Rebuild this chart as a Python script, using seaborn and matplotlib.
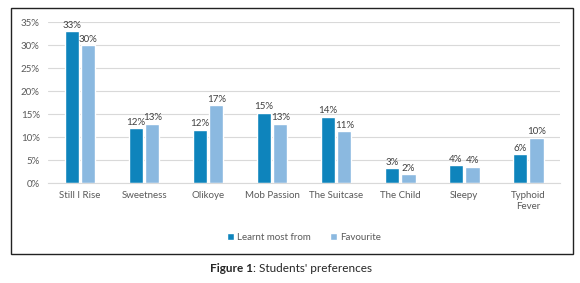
import numpy as np
import pandas as pd
import seaborn as sns
import matplotlib.pyplot as plt
from matplotlib.patches import Rectangle

# data
stories = ["Still I Rise", "Sweetness", "Olikoye", "Mob Passion", "The Suitcase",
           "The Child", "Sleepy", "Typhoid\nFever"]
learnt = [33.0, 12.0, 11.6, 15.3, 14.4, 3.2, 3.9, 6.3]
favourite = [30.0, 12.9, 16.9, 12.9, 11.3, 1.9, 3.6, 9.9]
series = ["Learnt most from", "Favourite"]
colors = ["#0E84BC", "#8BB9E0"]

df = pd.DataFrame({
    "story": stories * 2,
    "value": learnt + favourite,
    "series": [series[0]] * len(stories) + [series[1]] * len(stories),
})

sns.set_style("white")
plt.rcParams["font.family"] = ["Lato", "DejaVu Sans"]

fig = plt.figure(figsize=(5.8, 2.83), dpi=100)
ax = fig.add_axes([0.0828, 0.353, 0.883, 0.569])

# outer frame like the exported chart box
fig.patches.append(Rectangle((0.019, 0.1025), 0.969, 0.869, transform=fig.transFigure,
                             fill=False, edgecolor="#222222", linewidth=1.0))

sns.barplot(data=df, x="story", y="value", hue="series", palette=colors,
            saturation=1, width=0.52, gap=0.15, ax=ax, legend=True)

for cont in ax.containers:
    ax.bar_label(cont, fmt="{:.0f}%", fontsize=7, color="#404040", padding=1)

ax.set_ylim(0, 35)
ax.set_yticks(np.arange(0, 36, 5))
ax.set_yticklabels([f"{v}%" for v in range(0, 36, 5)])
ax.yaxis.grid(True, color="#D9D9D9", linewidth=0.8)
ax.set_axisbelow(True)
for s in ["left", "right", "top"]:
    ax.spines[s].set_visible(False)
ax.spines["bottom"].set_color("#D9D9D9")
ax.tick_params(axis="both", labelsize=7, colors="#595959", length=0, pad=6)
ax.set_xlabel("")
ax.set_ylabel("")
ax.set_xlim(-0.5, 7.5)

ax.legend(loc="center", bbox_to_anchor=(0.5, -0.335), ncol=2, frameon=False,
          fontsize=7, labelcolor="#595959", handlelength=0.7, handleheight=0.7,
          handletextpad=0.3, columnspacing=2.0)

fig.text(0.436, 0.053, "Figure 1", ha="right", va="center", fontsize=8.5, fontweight="bold")
fig.text(0.436, 0.053, ": Students' preferences", ha="left", va="center", fontsize=8.5)

fig.savefig("out.png", dpi=100)
